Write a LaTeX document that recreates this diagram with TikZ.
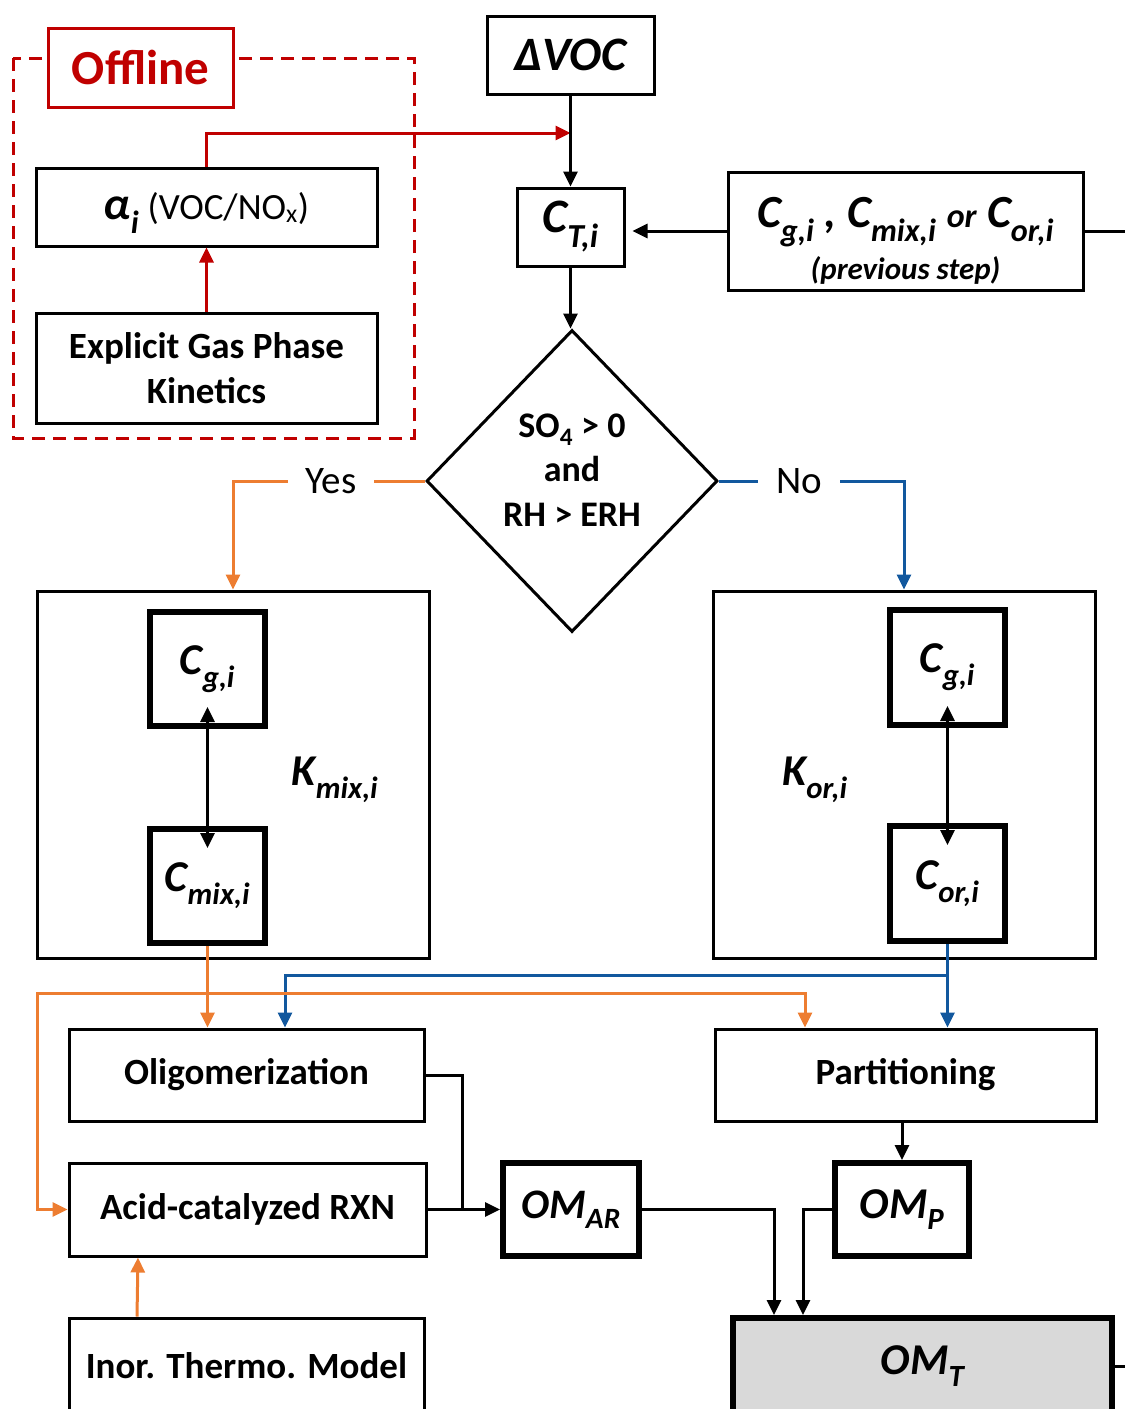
\documentclass[tikz,border=0pt]{standalone}
\usepackage{fontspec}
\setmainfont{Carlito}
\usetikzlibrary{arrows.meta,shapes.geometric}
\definecolor{offred}{RGB}{192,0,0}
\definecolor{yesorange}{RGB}{237,125,49}
\definecolor{noblue}{RGB}{18,88,158}
\newcommand{\fsz}[2]{\fontsize{#1}{#2}\selectfont}

\begin{document}
\begin{tikzpicture}[x=1pt,y=-1pt,
  box/.style={draw,line width=3pt,inner sep=0pt,align=center,font=\fsz{37}{45}\bfseries},
  heavybox/.style={box,line width=6pt,font=\fsz{44}{44}\bfseries\itshape},
  conn/.style={line width=3pt},
  arr/.style={conn,-{Triangle[length=15pt,width=14pt]}},
  dblarr/.style={conn,{Triangle[length=15pt,width=14pt]}-{Triangle[length=15pt,width=14pt]}},
  branch/.style={fill=white,inner xsep=18pt,inner ysep=2pt,font=\fsz{39}{39}}]
\useasboundingbox (0,0) rectangle (1125,1409);
\draw[offred,line width=3pt,dash pattern=on 13pt off 8pt] (13,58) rectangle (414,438);
\node[draw=offred,line width=3pt,fill=white,text=offred,font=\fsz{49}{49}\bfseries,
  minimum width=185pt,minimum height=79pt] (offline) at (140.5,67.5) {Offline};
\node[box,minimum width=341pt,minimum height=78pt,text height=30pt,text depth=6pt] (alpha) at (206.5,207)
  {{\fsz{46}{46}\itshape α\textsubscript{i}} {\mdseries (VOC/NO\textsubscript{x})}};
\node[box,minimum width=341pt,minimum height=110pt] (explicit) at (206.5,368)
  {Explicit Gas Phase\\Kinetics};
\node[box,minimum width=167pt,minimum height=78pt,font=\fsz{48}{48}\bfseries\itshape] (dvoc) at (570.5,55) {ΔVOC};
\node[box,minimum width=107pt,minimum height=78pt,font=\fsz{48}{48}\bfseries\itshape] (cti) at (570.5,227) {C\textsubscript{T,i}};
\node[box,minimum width=355pt,minimum height=118pt] (prev) at (905.5,231) {};
\node[align=center,font=\bfseries\itshape] (prevtxt) at (905.5,241)
  {\fsz{46}{46}C\textsubscript{g,i} , C\textsubscript{mix,i} {\fsz{34}{34}or} C\textsubscript{or,i}\\[8pt]\fsz{31}{31}(previous step)};
\node[draw,diamond,line width=3pt,inner sep=0pt,minimum width=291pt,minimum height=302pt] (cond) at (572,481) {};
\node[align=center,font=\fsz{36}{44.5}\bfseries] (condtxt) at (572,470) {SO\textsubscript{4} > 0\\and\\RH > ERH};
\node[box,minimum width=392pt,minimum height=367pt] (mixbox) at (233,774.5) {};
\node[box,minimum width=382pt,minimum height=367pt] (orbox) at (904,774.5) {};
\node[heavybox,minimum width=115pt,minimum height=114pt] (cgl) at (207.5,669) {C\textsubscript{g,i}};
\node[heavybox,minimum width=115pt,minimum height=114pt] (cmix) at (207.5,886) {C\textsubscript{mix,i}};
\node[heavybox,minimum width=115pt,minimum height=115pt] (cgr) at (947.5,667.5) {C\textsubscript{g,i}};
\node[heavybox,minimum width=115pt,minimum height=115pt] (cor) at (947.5,883.5) {C\textsubscript{or,i}};
\node[font=\fsz{44}{44}\bfseries\itshape] (kmix) at (335,780) {K\textsubscript{mix,i}};
\node[font=\fsz{44}{44}\bfseries\itshape] (kor) at (815,780) {K\textsubscript{or,i}};
\node[box,minimum width=355pt,minimum height=92pt] (oligo) at (246.5,1075) {Oligomerization};
\node[box,minimum width=357pt,minimum height=93pt] (acid) at (247.5,1209.5) {Acid-catalyzed RXN};
\node[box,minimum width=355pt,minimum height=96pt] (inor) at (246.5,1366) {Inor. Thermo. Model};
\node[heavybox,minimum width=136pt,minimum height=93pt,font=\fsz{42}{42}\bfseries\itshape] (omar) at (571,1209.5) {OM\textsubscript{AR}};
\node[box,minimum width=381pt,minimum height=92pt] (part) at (905.5,1075) {Partitioning};
\node[heavybox,minimum width=134pt,minimum height=93pt] (omp) at (902,1209.5) {OM\textsubscript{P}};
\node[heavybox,fill=black!15,minimum width=379pt,minimum height=96pt] (omt) at (922.5,1366) {OM\textsubscript{T}};

\coordinate (redin) at (570.5,133);
\coordinate (prevout) at (1130,231);
\coordinate (omtout) at (1130,1366);
\coordinate (orjoin) at (207.5,993);
\coordinate (orleft) at (37,993);
\coordinate (bljoin) at (947.5,975);
\coordinate (mrgjoin) at (462,1209.5);

\draw[arr,offred] (explicit.north) -- (alpha.south);
\draw[arr,offred] (alpha.north) |- (redin);
\draw[arr] (dvoc.south) -- (cti.north);
\draw[arr] (cti.south) -- (cti.south |- cond.north);
\draw[arr,shorten >=7pt] (prev.west) -- (prev.west -| cti.east);
\draw[conn] (prev.east) -- (prevout);
\draw[arr,yesorange] (cond.west) -| (mixbox.north);
\node[branch] (yes) at (331,481) {Yes};
\draw[arr,noblue] (cond.east) -| (orbox.north);
\node[branch] (no) at (799,481) {No};
\draw[dblarr,shorten <=-22pt,shorten >=-22pt] (cgl.south) -- (cmix.north);
\draw[dblarr,shorten <=-22pt,shorten >=-22pt] (cgr.south) -- (cor.north);
\draw[arr,noblue] (bljoin) -| ([xshift=38.5pt]oligo.north);
\draw[arr,noblue] (cor.south) -- (cor.south |- part.north);
\draw[arr,yesorange] (cmix.south) -- (cmix.south |- oligo.north);
\draw[arr,yesorange] (orjoin) -| ([xshift=-100.5pt]part.north);
\draw[arr,yesorange] (orjoin) -- (orleft) |- (acid.west);
\draw[arr,yesorange] ([xshift=-109.5pt]inor.north) -- ([xshift=-109.5pt]acid.south);
\draw[conn] (oligo.east) -| (mrgjoin);
\draw[arr] (acid.east) -- (omar.west);
\draw[arr] (part.south -| omp.north) -- (omp.north);
\draw[arr] (omar.east) -| ([xshift=-148.5pt]omt.north);
\draw[arr] (omp.west) -| ([xshift=-119.5pt]omt.north);
\draw[conn] (omt.east) -- (omtout);
\end{tikzpicture}
\end{document}
